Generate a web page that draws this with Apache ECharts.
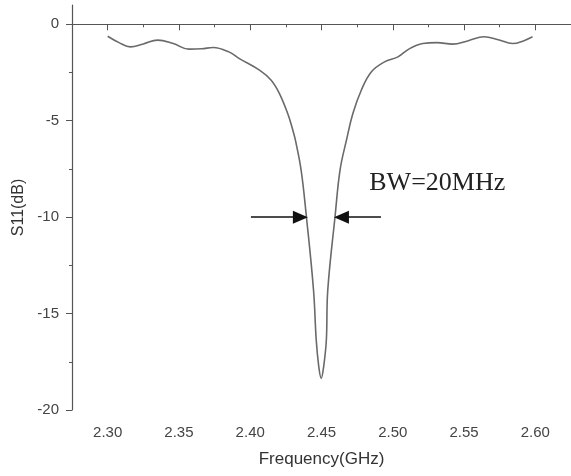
<!DOCTYPE html>
<html>
<head>
<meta charset="utf-8">
<script src="https://cdn.jsdelivr.net/npm/echarts@6/dist/echarts.min.js"></script>
<style>html,body{margin:0;padding:0;background:#fff}#c{width:571px;height:476px}</style>
</head>
<body>
<div id="c"></div>
<script>
const freq = [2.300, 2.308, 2.316, 2.325, 2.335, 2.346, 2.357, 2.366, 2.374, 2.385, 2.3924, 2.4065, 2.4147, 2.4205, 2.4263, 2.4299, 2.4317, 2.4357, 2.4393, 2.4444, 2.4463, 2.4481, 2.4498, 2.4515, 2.4534, 2.4544, 2.4596, 2.4630, 2.4675, 2.4720, 2.4779, 2.4849, 2.4942, 2.5036, 2.5118, 2.521, 2.531, 2.542, 2.553, 2.564, 2.574, 2.584, 2.592, 2.598];
const s11  = [-0.62, -0.95, -1.17, -1.02, -0.82, -1.0, -1.29, -1.27, -1.20, -1.43, -1.78, -2.38, -2.90, -3.59, -4.63, -5.49, -6.01, -7.56, -9.9, -13.78, -16.37, -17.76, -18.36, -17.76, -16.37, -13.78, -9.9, -7.56, -6.01, -4.63, -3.42, -2.47, -1.95, -1.69, -1.26, -1.0, -0.95, -1.03, -0.85, -0.65, -0.8, -1.0, -0.85, -0.65];
const xMajorTicks = [2.30, 2.35, 2.40, 2.45, 2.50, 2.55, 2.60];
const xMinorTicks = [2.325, 2.375, 2.425, 2.475, 2.525, 2.575];
const yMajorTicks = [-20, -15, -10, -5, 0];
const yMinorTicks = [-17.5, -12.5, -7.5, -2.5];
const bwLeftArrow = [[2.4005, -10], [2.4352, -10]];
const bwRightArrow = [[2.4917, -10], [2.4640, -10]];
const bwLabel = 'BW=20MHz';
const bwLabelPos = [2.4835, -8.22];

const chart = echarts.init(document.getElementById('c'), null, {renderer: 'canvas'});
const axisColor = '#555';
const textColor = '#444';
chart.setOption({
  animation: false,
  backgroundColor: '#fff',
  grid: {left: 72, right: 0, top: 5, bottom: 66, containLabel: false},
  xAxis: [{
    type: 'value', min: 2.275, max: 2.625, position: 'bottom',
    name: 'Frequency(GHz)', nameLocation: 'middle', nameGap: 41,
    nameTextStyle: {fontFamily: 'Liberation Sans', fontSize: 17, color: '#333'},
    axisLine: {show: true, lineStyle: {color: axisColor, width: 1.2}},
    axisTick: {show: true, customValues: xMajorTicks, length: 6, inside: false, lineStyle: {color: axisColor}},
    axisLabel: {show: true, customValues: xMajorTicks, margin: 15, fontFamily: 'Liberation Sans', fontSize: 15, color: textColor,
      formatter: v => v.toFixed(2)},
    splitLine: {show: false}
  }, {
    type: 'value', min: 2.275, max: 2.625, position: 'bottom',
    axisLine: {show: false},
    axisTick: {show: true, customValues: xMinorTicks, length: 3, lineStyle: {color: axisColor}},
    axisLabel: {show: false},
    splitLine: {show: false}
  }],
  yAxis: [{
    type: 'value', min: -20, max: 1, position: 'left',
    name: 'S11(dB)', nameLocation: 'middle', nameGap: 37, nameRotate: 90,
    nameTextStyle: {fontFamily: 'Liberation Sans', fontSize: 16, color: '#333'},
    axisLine: {show: true, lineStyle: {color: axisColor, width: 1.2}},
    axisTick: {show: true, customValues: yMajorTicks, length: 6, lineStyle: {color: axisColor}},
    axisLabel: {show: true, customValues: yMajorTicks, margin: 13, fontFamily: 'Liberation Sans', fontSize: 15, color: textColor},
    splitLine: {show: false}
  }, {
    type: 'value', min: -20, max: 1, position: 'left',
    axisLine: {show: false},
    axisTick: {show: true, customValues: yMinorTicks, length: 3, lineStyle: {color: axisColor}},
    axisLabel: {show: false},
    splitLine: {show: false}
  }],
  series: [{
    type: 'line',
    xAxisIndex: 0, yAxisIndex: 0,
    data: freq.map((f, i) => [f, s11[i]]),
    smooth: 0.4,
    showSymbol: false,
    lineStyle: {color: '#6a6a6a', width: 1.6},
    markLine: {
      silent: true,
      animation: false,
      label: {show: false},
      lineStyle: {color: '#111', width: 1.6, type: 'solid'},
      symbol: ['none', 'triangle'],
      symbolSize: [13, 15],
      data: [
        [{coord: bwLeftArrow[0]}, {coord: bwLeftArrow[1]}],
        [{coord: bwRightArrow[0]}, {coord: bwRightArrow[1]}]
      ]
    },
    markPoint: {
      silent: true,
      animation: false,
      data: [{coord: bwLabelPos, symbol: 'circle', symbolSize: 0,
        label: {show: true, formatter: bwLabel, position: [0, 0], align: 'left', verticalAlign: 'middle',
          fontFamily: 'Liberation Serif', fontSize: 26, color: '#222'}}]
    }
  }]
});
</script>
</body>
</html>
